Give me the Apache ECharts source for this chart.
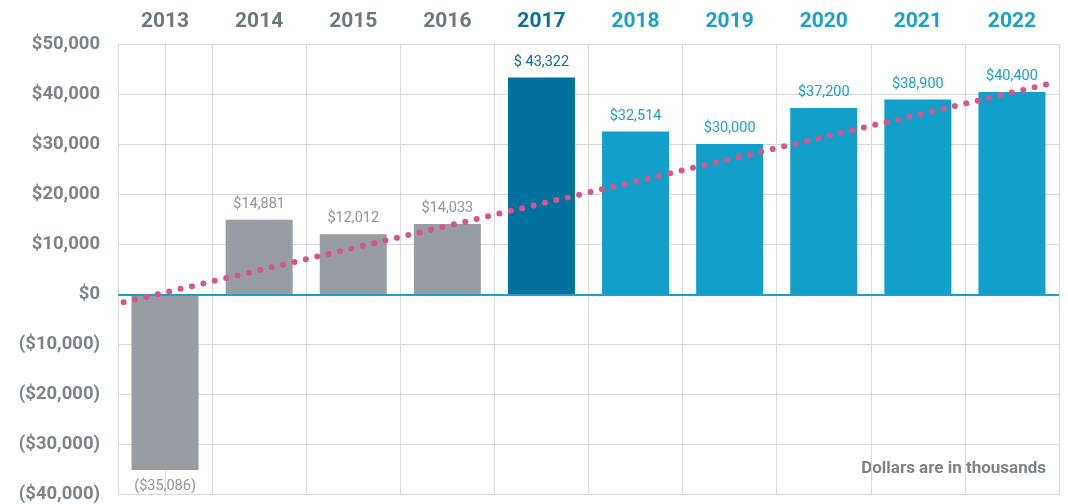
<!DOCTYPE html>
<html>
<head>
<meta charset="utf-8">
<script src="https://cdn.jsdelivr.net/npm/echarts@6/dist/echarts.min.js"></script>
<style>
  html, body { margin: 0; padding: 0; background: #fff; }
  #chart { width: 1068px; height: 504px; }
</style>
</head>
<body>
<div id="chart"></div>
<script>
// chart data
var years = ['2013', '2014', '2015', '2016', '2017', '2018', '2019', '2020', '2021', '2022'];
var values = [-35086, 14881, 12012, 14033, 43322, 32514, 30000, 37200, 38900, 40400];
var valueLabels = ['($35,086)', '$14,881', '$12,012', '$14,033', '$ 43,322', '$32,514', '$30,000', '$37,200', '$38,900', '$40,400'];
// trend line (x in category units)
var trendX = [-0.44, 9.45];
var trendY = [-1600, 42300];
var yTicks = [-40000, -30000, -20000, -10000, 0, 10000, 20000, 30000, 40000, 50000];
var yTickLabels = ['($40,000)', '($30,000)', '($20,000)', '($10,000)', '$0', '$10,000', '$20,000', '$30,000', '$40,000', '$50,000'];

var GRAY = '#979da2', DARK = '#00729d', BLUE = '#129fca';
var LABEL_GRAY = '#6e787f';

function barColor(i) {
    if (i < 4) return GRAY;
    if (i === 4) return DARK;
    return BLUE;
}
function yearColor(i) {
    if (i < 4) return LABEL_GRAY;
    if (i === 4) return '#0a7098';
    return '#1aa0c9';
}
function valueLabelColor(i) {
    if (i < 4) return '#8e959b';
    if (i === 4) return '#0a7098';
    return '#1aa0c9';
}

var barData = values.map(function(v, i) {
    return {
        value: v,
        itemStyle: { color: barColor(i) },
        label: {
            position: v < 0 ? 'bottom' : 'top',
            distance: v < 0 ? 9 : 8,
            color: valueLabelColor(i),
            formatter: valueLabels[i]
        }
    };
});

var myChart = echarts.init(document.getElementById('chart'));
var option = {
    animation: false,
    textStyle: { fontFamily: 'Roboto, sans-serif' },
    grid: { left: 118, right: 9, top: 44, bottom: 8 },
    xAxis: [
        {
            type: 'category',
            data: years,
            position: 'top',
            axisLine: { show: false },
            axisTick: { show: false },
            axisLabel: {
                margin: 12,
                fontSize: 21,
                fontWeight: 'bold',
                color: function(val, idx) { return yearColor(idx); }
            },
            splitLine: { show: true, lineStyle: { color: '#d6d9dd', width: 1 } }
        },
        {
            type: 'value',
            min: -0.5,
            max: 9.5,
            show: false
        }
    ],
    yAxis: {
        type: 'value',
        min: -40000,
        max: 50000,
        interval: 10000,
        axisLine: { show: true, lineStyle: { color: '#d6d9dd' } },
        axisTick: { show: false },
        axisLabel: {
            margin: 18,
            fontSize: 18.5,
            fontWeight: 'bold',
            color: '#7b848b',
            formatter: function(v) {
                var k = yTicks.indexOf(v);
                return k >= 0 ? yTickLabels[k] : '';
            }
        },
        splitLine: { show: true, lineStyle: { color: '#d6d9dd', width: 1 } }
    },
    graphic: [
        {
            type: 'text',
            right: 22,
            top: 460,
            style: {
                text: 'Dollars are in thousands',
                fontFamily: 'Roboto, sans-serif',
                fontSize: 17,
                fontWeight: 'bold',
                fill: '#7b848b'
            }
        }
    ],
    series: [
        {
            type: 'bar',
            data: barData,
            barWidth: 67,
            label: {
                show: true,
                fontSize: 14.5
            },
            markLine: {
                silent: true,
                symbol: 'none',
                label: { show: false },
                lineStyle: { color: '#1aa0c9', width: 2, type: 'solid' },
                data: [{ yAxis: 0 }]
            }
        },
        {
            type: 'line',
            xAxisIndex: 1,
            data: trendX.map(function(x, i) { return [x, trendY[i]]; }),
            symbol: 'none',
            clip: false,
            z: 5,
            lineStyle: {
                color: '#d6558d',
                width: 6,
                type: [0, 11.7],
                cap: 'round'
            }
        }
    ]
};
myChart.setOption(option);
</script>
</body>
</html>
